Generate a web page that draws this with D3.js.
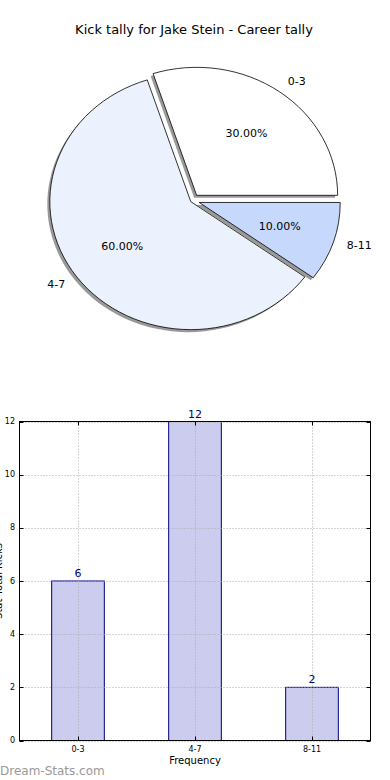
<!DOCTYPE html>
<html>
<head>
<meta charset="utf-8">
<script src="https://cdn.jsdelivr.net/npm/d3@7"></script>
<style>
  html, body { margin: 0; padding: 0; background: #fff; }
  svg { display: block; font-family: "DejaVu Sans", sans-serif; }
</style>
</head>
<body>
<svg id="chart" width="390" height="780"></svg>
<script>
const title = "Kick tally for Jake Stein - Career tally";
const categories = ["0-3", "4-7", "8-11"];
const counts = [6, 12, 2];
const sliceColors = ["#ffffff", "#ebf1fd", "#c6d9fd"];
const explode = [0.05, 0.015, 0.05];
const yTicks = [0, 2, 4, 6, 8, 10, 12];
const xLabel = "Frequency";
const yLabel = "Stat Total Kicks";
const watermark = "Dream-Stats.com";

const svg = d3.select("#chart");
svg.append("rect").attr("width", 390).attr("height", 780).attr("fill", "#fff");

// Title
svg.append("text").attr("x", 194).attr("y", 34).attr("text-anchor", "middle")
  .attr("font-size", 13).attr("fill", "#000").text(title);

// ---------- PIE ----------
const cx = 192.5, cy = 200.5, rx = 141, ry = 128;
const total = d3.sum(counts);
const pie = d3.pie().sort(null).value(d => d)
  .startAngle(Math.PI / 2).endAngle(Math.PI / 2 - 2 * Math.PI);
const arcs = pie(counts);
const arc = d3.arc().innerRadius(0).outerRadius(1);

const pieG = svg.append("g");
const info = arcs.map((a, i) => {
  const mid = (a.startAngle + a.endAngle) / 2;
  const ux = Math.sin(mid), uy = -Math.cos(mid);
  const ox = cx + explode[i] * rx * ux, oy = cy + explode[i] * ry * uy;
  return { a, i, ux, uy, ox, oy };
});
// shadows
info.forEach(d => {
  pieG.append("path")
    .attr("d", arc(d.a))
    .attr("transform", `translate(${d.ox - 2.5},${d.oy + 2.5}) scale(${rx},${ry})`)
    .attr("fill", "#000").attr("fill-opacity", 0.4);
});
// wedges
info.forEach(d => {
  pieG.append("path")
    .attr("d", arc(d.a))
    .attr("transform", `translate(${d.ox},${d.oy}) scale(${rx},${ry})`)
    .attr("fill", sliceColors[d.i])
    .attr("stroke", "#000").attr("stroke-width", 0.8)
    .attr("vector-effect", "non-scaling-stroke");
});
// labels
info.forEach(d => {
  const lx = d.ox + 1.1 * rx * d.ux, ly = d.oy + 1.1 * ry * d.uy;
  pieG.append("text").attr("x", lx).attr("y", ly)
    .attr("text-anchor", d.ux > 0 ? "start" : "end")
    .attr("dominant-baseline", "central")
    .attr("font-size", 11).attr("fill", "#000")
    .text(categories[d.i]);
  const px = d.ox + 0.6 * rx * d.ux, py = d.oy + 0.6 * ry * d.uy;
  pieG.append("text").attr("x", px).attr("y", py)
    .attr("text-anchor", "middle").attr("dominant-baseline", "central")
    .attr("font-size", 11).attr("fill", "#000")
    .text((counts[d.i] / total * 100).toFixed(2) + "%");
});

// ---------- BAR ----------
const L = 19.5, R = 370.5, T = 421.5, B = 740.5;
const x = d3.scaleLinear().domain([-0.5, categories.length - 0.5]).range([L, R]);
const y = d3.scaleLinear().domain([0, 12]).range([B, T]);
const barW = 0.45;

const barG = svg.append("g");
barG.selectAll("rect.bar").data(counts).join("rect")
  .attr("class", "bar")
  .attr("x", (d, i) => x(i - barW / 2))
  .attr("width", (d, i) => x(barW) - x(0))
  .attr("y", d => y(d))
  .attr("height", d => y(0) - y(d))
  .attr("fill", "#ccccee").attr("stroke", "#000080").attr("stroke-width", 1);

// grid
const gridG = svg.append("g").attr("stroke", "#aaaaaa").attr("stroke-width", 1)
  .attr("stroke-dasharray", "1,2");
yTicks.forEach(t => {
  gridG.append("line").attr("x1", L).attr("x2", R)
    .attr("y1", Math.round(y(t)) + 0.5).attr("y2", Math.round(y(t)) + 0.5);
});
categories.forEach((c, i) => {
  gridG.append("line").attr("x1", Math.round(x(i)) + 0.5).attr("x2", Math.round(x(i)) + 0.5)
    .attr("y1", T).attr("y2", B);
});

// frame
svg.append("rect").attr("x", L).attr("y", T).attr("width", R - L).attr("height", B - T)
  .attr("fill", "none").attr("stroke", "#000").attr("stroke-width", 1);

// ticks (inward, both sides)
const tickG = svg.append("g").attr("stroke", "#000").attr("stroke-width", 1);
yTicks.forEach(t => {
  const yy = Math.round(y(t)) + 0.5;
  tickG.append("line").attr("x1", L).attr("x2", L + 4).attr("y1", yy).attr("y2", yy);
  tickG.append("line").attr("x1", R).attr("x2", R - 4).attr("y1", yy).attr("y2", yy);
});
categories.forEach((c, i) => {
  const xx = Math.round(x(i)) + 0.5;
  tickG.append("line").attr("x1", xx).attr("x2", xx).attr("y1", B).attr("y2", B - 4);
  tickG.append("line").attr("x1", xx).attr("x2", xx).attr("y1", T).attr("y2", T + 4);
});

// tick labels
yTicks.forEach(t => {
  svg.append("text").attr("x", 15).attr("y", y(t)).attr("text-anchor", "end")
    .attr("dominant-baseline", "central").attr("font-size", 8).attr("fill", "#000").text(t);
});
categories.forEach((c, i) => {
  svg.append("text").attr("x", x(i)).attr("y", B + 11).attr("text-anchor", "middle")
    .attr("font-size", 8).attr("fill", "#000").text(c);
});

// value labels
counts.forEach((v, i) => {
  svg.append("text").attr("x", x(i)).attr("y", y(v) - 4).attr("text-anchor", "middle")
    .attr("font-size", 11).attr("fill", "#000080").text(v);
});

// axis labels
svg.append("text").attr("x", (L + R) / 2).attr("y", 764).attr("text-anchor", "middle")
  .attr("font-size", 10).attr("fill", "#000").text(xLabel);
svg.append("text").attr("transform", `translate(2,${(T + B) / 2}) rotate(-90)`)
  .attr("text-anchor", "middle").attr("font-size", 10).attr("fill", "#000").text(yLabel);

// watermark
svg.append("text").attr("x", 0).attr("y", 775).attr("font-size", 12)
  .attr("fill", "#999999").text(watermark);
</script>
</body>
</html>
